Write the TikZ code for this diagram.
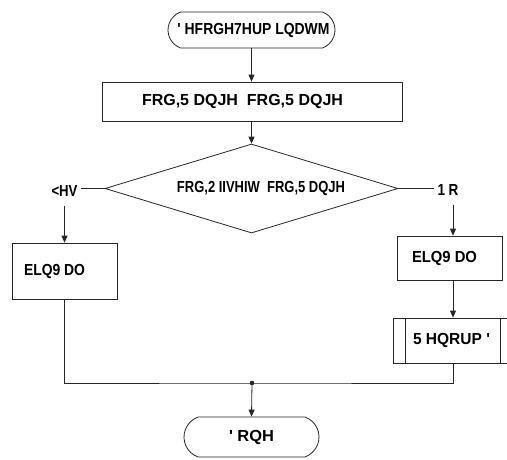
\documentclass[tikz,border=0pt]{standalone}
\usepackage{fontspec}
\setmainfont{Liberation Sans}[Ligatures=TeXOff]
\usepackage{graphicx}
\usetikzlibrary{shapes.geometric,shapes.misc,arrows.meta,calc}
\newcommand{\fw}[2]{\resizebox{#1pt}{\height}{#2}}
\begin{document}
\begin{tikzpicture}[x=1pt,y=-1pt,
  every node/.style={font=\bfseries\fontsize{16}{18}\selectfont, inner sep=0pt},
  ln/.style={line width=0.8pt, draw=black!85},
  arr/.style={ln, -{Triangle[length=7pt,width=6pt]}},
  term/.style={ln, rounded rectangle, rounded rectangle arc length=140},
  box/.style={ln, rectangle},
  dec/.style={ln, diamond, aspect=3},
  lbl/.style={inner xsep=3pt, inner ysep=9pt}]
\useasboundingbox (0,0) rectangle (507,459);
\clip (0,0) rectangle (507,459);

\node[term, minimum width=167pt, minimum height=36pt] (start) at (251.5,30) {\hspace*{4pt}\fw{152}{' HFRGH7HUP LQDWM}};
\node[box, minimum width=300pt, minimum height=39pt] (proc) at (252,101.5) {\fw{201}{FRG,5 DQJH\ \ FRG,5 DQJH}\hspace*{19pt}};
\node[dec, minimum width=293pt, minimum height=89pt] (dec) at (251.5,188.5) {\hspace*{19pt}\fw{168}{FRG,2 IIVHIW\ \ FRG,5 DQJH}};
\node[lbl] (yes) at (64.5,191) {\fw{26}{<HV}};
\node[lbl] (no) at (448,190) {\fw{21}{1 R}};
\node[box, minimum width=105pt, minimum height=56pt] (b1) at (64.5,271) {\fw{61}{ELQ9 DO}\hspace*{20pt}};
\node[box, minimum width=105pt, minimum height=44pt] (b2) at (449.5,258) {\fw{65}{ELQ9 DO}\hspace*{10pt}};
\node[box, minimum width=120pt, minimum height=45pt] (pp) at (453,340.5) {\fw{77}{5 HQRUP '}\hspace*{3pt}};
\draw[ln] ($(pp.north west)+(13,0)$) -- ($(pp.south west)+(13,0)$);
\draw[ln] ($(pp.north east)+(-13,0)$) -- ($(pp.south east)+(-13,0)$);
\node[term, minimum width=135pt, minimum height=40pt] (end) at (251.5,437) {\fw{45}{' RQH}};

\coordinate (cx) at (453,0);
\coordinate (j) at (252,383);

\draw[arr] (start.south) -- (proc.north -| start.south);
\draw[arr] (proc.south -| dec.north) -- (dec.north);
\draw[ln] (dec.west) -- (yes.east |- dec.west);
\draw[ln] (dec.east) -- (no.west |- dec.east);
\draw[arr] (yes.south -| b1.north) -- (b1.north);
\draw[arr] (cx |- no.south) -- (cx |- b2.north);
\draw[arr] (cx |- b2.south) -- (cx |- pp.north);
\draw[ln] (b1.south) |- (j) -| (pp.south);
\fill[black!85] (j) circle (2.3pt);
\draw[arr] (j) -- (end.north);
\end{tikzpicture}
\end{document}
